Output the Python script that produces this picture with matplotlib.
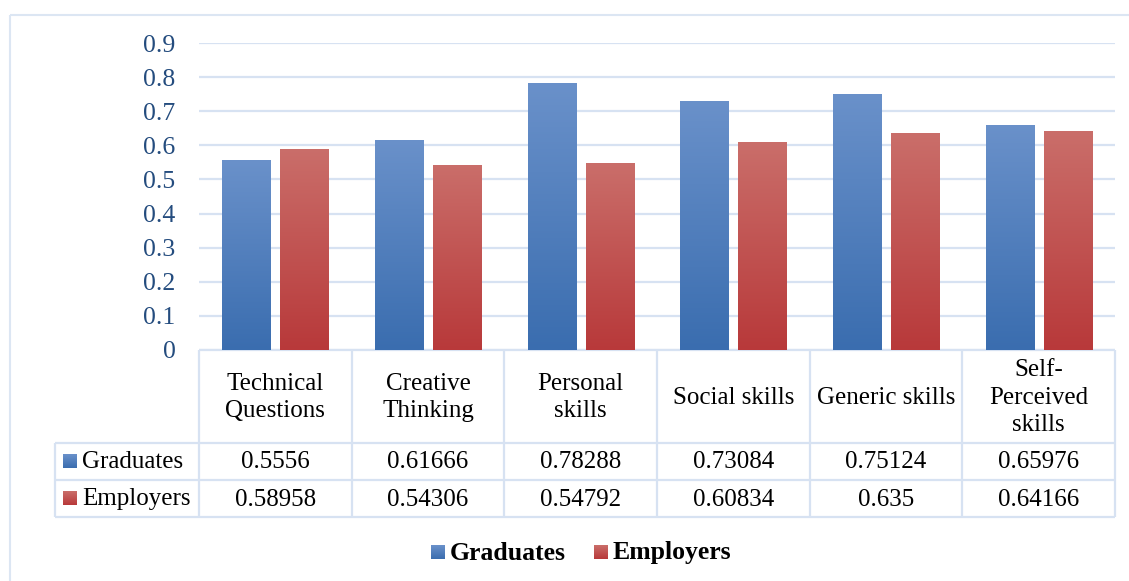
import numpy as np
import matplotlib
matplotlib.use("Agg")
import matplotlib.pyplot as plt
from matplotlib.patches import Rectangle
from matplotlib.colors import LinearSegmentedColormap

categories = ["Technical\nQuestions", "Creative\nThinking", "Personal\nskills",
              "Social skills", "Generic skills", "Self-\nPerceived\nskills"]
series_names = ["Graduates", "Employers"]
graduates = [0.5556, 0.61666, 0.78288, 0.73084, 0.75124, 0.65976]
employers = [0.58958, 0.54306, 0.54792, 0.60834, 0.635, 0.64166]
graduates_txt = ["0.5556", "0.61666", "0.78288", "0.73084", "0.75124", "0.65976"]
employers_txt = ["0.58958", "0.54306", "0.54792", "0.60834", "0.635", "0.64166"]
yticks = [0, 0.1, 0.2, 0.3, 0.4, 0.5, 0.6, 0.7, 0.8, 0.9]

W, H = 1129, 581
FONT = "Liberation Serif"
FS = 18
GRID = "#D7E2F2"
BLUE_TOP, BLUE_BOT = "#6A91CA", "#3A6DAF"
RED_TOP, RED_BOT = "#CA6E6A", "#B8393A"

plt.rcParams["font.family"] = [FONT, "DejaVu Serif"]

fig = plt.figure(figsize=(W / 100, H / 100), dpi=100)

# overlay in pixel coords
ov = fig.add_axes([0, 0, 1, 1], zorder=0)
ov.set_xlim(0, W)
ov.set_ylim(H, 0)
ov.axis("off")

# plot area
x0, x1, ytop, ybot = 199, 1115, 43, 350
ax = fig.add_axes([x0 / W, (H - ybot) / H, (x1 - x0) / W, (ybot - ytop) / H], zorder=2)
ax.patch.set_alpha(0)
n = len(categories)
x = np.arange(n)
bw = 0.315
off = 0.19
b1 = ax.bar(x - off, graduates, bw, color="none", zorder=3)
b2 = ax.bar(x + off, employers, bw, color="none", zorder=3)
ax.set_xlim(-0.5, n - 0.5)
ax.set_ylim(0, 0.9)
ax.set_yticks(yticks)
ax.set_yticklabels([("%g" % v) for v in yticks], fontsize=FS + 0.5, color="#244C7E")
ax.tick_params(axis="y", length=0, pad=17)
ax.tick_params(axis="x", length=0, labelbottom=False)
for s in ax.spines.values():
    s.set_visible(False)
ax.yaxis.grid(True, color=GRID, linewidth=1.6, zorder=0)
ax.set_axisbelow(True)

grad = np.linspace(0, 1, 256).reshape(-1, 1)
for bars, top, bot in [(b1, BLUE_TOP, BLUE_BOT), (b2, RED_TOP, RED_BOT)]:
    cmap = LinearSegmentedColormap.from_list("g", [bot, top])
    for r in bars:
        bx, by = r.get_x(), r.get_y()
        bwid, bh = r.get_width(), r.get_height()
        im = ax.imshow(grad, cmap=cmap, origin="lower", aspect="auto",
                       extent=[bx, bx + bwid, by, by + bh], zorder=3)
        im.set_clip_path(r)
ax.set_xlim(-0.5, n - 0.5)
ax.set_ylim(0, 0.9)

# helpers
fig.canvas.draw()
def px(xd):
    disp = ax.transData.transform((xd, 0))
    return ov.transData.inverted().transform(disp)[0]

cols = [px(i - 0.5) for i in range(n + 1)]
centers = [px(i) for i in range(n)]

# outer border
ov.add_patch(Rectangle((9.5, 14.5), 1200, 700, fill=False, edgecolor="#DCE6F3", linewidth=1.5))

# data table
y_hdr, y_r1, y_r2, y_r3 = 350, 443, 480, 517
lkw = dict(color=GRID, linewidth=1.6, solid_capstyle="butt")
ov.plot([cols[0], cols[-1]], [y_hdr, y_hdr], **lkw)
for yy in (y_r1, y_r2, y_r3):
    ov.plot([55, cols[-1]], [yy, yy], **lkw)
ov.plot([55, 55], [y_r1, y_r3], **lkw)
for cx in cols:
    ov.plot([cx, cx], [y_hdr, y_r3], **lkw)

for i, c in enumerate(categories):
    ov.text(centers[i], (y_hdr + y_r1) / 2 + 1, c, ha="center", va="center",
            fontsize=FS, color="black", linespacing=1.32)
    ov.text(centers[i], (y_r1 + y_r2) / 2 + 1, graduates_txt[i], ha="center", va="center",
            fontsize=FS, color="black")
    ov.text(centers[i], (y_r2 + y_r3) / 2 + 1, employers_txt[i], ha="center", va="center",
            fontsize=FS, color="black")

for (yy0, yy1), name, top, bot in [((y_r1, y_r2), series_names[0], BLUE_TOP, BLUE_BOT),
                                   ((y_r2, y_r3), series_names[1], RED_TOP, RED_BOT)]:
    yc = (yy0 + yy1) / 2
    cmap = LinearSegmentedColormap.from_list("g", [top, bot])
    ov.imshow(grad, cmap=cmap, extent=[63, 77, yc + 7, yc - 7], origin="upper", aspect="auto", zorder=3)
    ov.text(82, yc + 1, name, ha="left", va="center", fontsize=FS, color="black")

# legend
ly = 552
for lx, name, top, bot in [(431, series_names[0], BLUE_TOP, BLUE_BOT),
                           (594, series_names[1], RED_TOP, RED_BOT)]:
    cmap = LinearSegmentedColormap.from_list("g", [top, bot])
    ov.imshow(grad, cmap=cmap, extent=[lx, lx + 14, ly + 7, ly - 7], origin="upper", aspect="auto", zorder=3)
    ov.text(lx + 19, ly + 1, name, ha="left", va="center", fontsize=FS + 0.5, fontweight="bold", color="black")

ov.set_xlim(0, W)
ov.set_ylim(H, 0)

fig.savefig("out.png", dpi=100)
